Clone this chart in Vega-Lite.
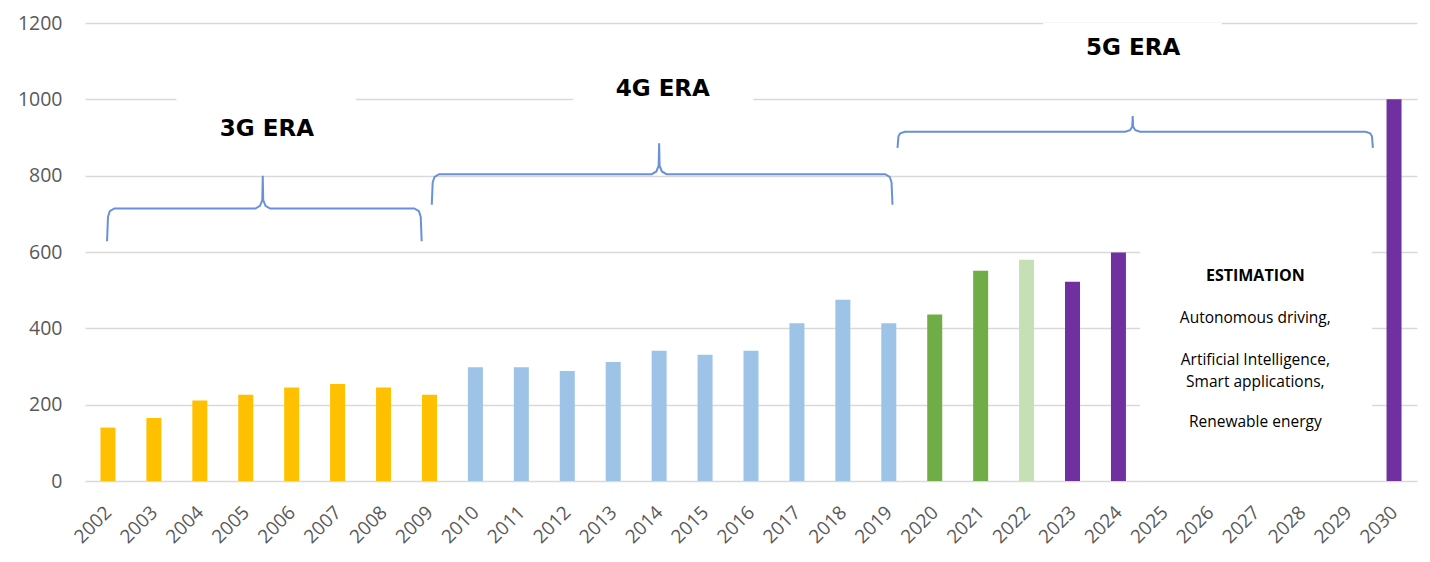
{
  "$schema": "https://vega.github.io/schema/vega-lite/v6.json",
  "width": 1332,
  "height": 458,
  "autosize": "none",
  "padding": {"left": 85, "top": 23, "right": 13, "bottom": 81},
  "background": "white",
  "config": {"view": {"stroke": null}, "font": "Open Sans"},
  "datasets": {
    "bars": [
      {"year": 2002, "value": 140, "group": "3G"},
      {"year": 2003, "value": 165, "group": "3G"},
      {"year": 2004, "value": 211, "group": "3G"},
      {"year": 2005, "value": 226, "group": "3G"},
      {"year": 2006, "value": 245, "group": "3G"},
      {"year": 2007, "value": 254, "group": "3G"},
      {"year": 2008, "value": 245, "group": "3G"},
      {"year": 2009, "value": 226, "group": "3G"},
      {"year": 2010, "value": 298, "group": "4G"},
      {"year": 2011, "value": 298, "group": "4G"},
      {"year": 2012, "value": 288, "group": "4G"},
      {"year": 2013, "value": 312, "group": "4G"},
      {"year": 2014, "value": 341, "group": "4G"},
      {"year": 2015, "value": 331, "group": "4G"},
      {"year": 2016, "value": 341, "group": "4G"},
      {"year": 2017, "value": 413, "group": "4G"},
      {"year": 2018, "value": 475, "group": "4G"},
      {"year": 2019, "value": 413, "group": "4G"},
      {"year": 2020, "value": 436, "group": "5G"},
      {"year": 2021, "value": 551, "group": "5G"},
      {"year": 2022, "value": 580, "group": "5G light"},
      {"year": 2023, "value": 522, "group": "Estimation"},
      {"year": 2024, "value": 599, "group": "Estimation"},
      {"year": 2030, "value": 1000, "group": "Estimation"}
    ],
    "braces": [
      {"era": "3G", "i": 0, "x": 2001.98, "y": 628},
      {"era": "3G", "i": 1, "x": 2002.00, "y": 692},
      {"era": "3G", "i": 2, "x": 2002.04, "y": 707},
      {"era": "3G", "i": 3, "x": 2002.14, "y": 714},
      {"era": "3G", "i": 4, "x": 2005.21, "y": 714},
      {"era": "3G", "i": 5, "x": 2005.31, "y": 721},
      {"era": "3G", "i": 6, "x": 2005.36, "y": 736},
      {"era": "3G", "i": 7, "x": 2005.37, "y": 800},
      {"era": "3G", "i": 8, "x": 2005.38, "y": 736},
      {"era": "3G", "i": 9, "x": 2005.43, "y": 721},
      {"era": "3G", "i": 10, "x": 2005.53, "y": 714},
      {"era": "3G", "i": 11, "x": 2008.67, "y": 714},
      {"era": "3G", "i": 12, "x": 2008.77, "y": 707},
      {"era": "3G", "i": 13, "x": 2008.81, "y": 692},
      {"era": "3G", "i": 14, "x": 2008.83, "y": 628},
      {"era": "4G", "i": 0, "x": 2009.05, "y": 724},
      {"era": "4G", "i": 1, "x": 2009.07, "y": 782},
      {"era": "4G", "i": 2, "x": 2009.11, "y": 797},
      {"era": "4G", "i": 3, "x": 2009.21, "y": 804},
      {"era": "4G", "i": 4, "x": 2013.84, "y": 804},
      {"era": "4G", "i": 5, "x": 2013.94, "y": 811},
      {"era": "4G", "i": 6, "x": 2013.99, "y": 826},
      {"era": "4G", "i": 7, "x": 2014.00, "y": 885},
      {"era": "4G", "i": 8, "x": 2014.01, "y": 826},
      {"era": "4G", "i": 9, "x": 2014.06, "y": 811},
      {"era": "4G", "i": 10, "x": 2014.16, "y": 804},
      {"era": "4G", "i": 11, "x": 2018.92, "y": 804},
      {"era": "4G", "i": 12, "x": 2019.02, "y": 797},
      {"era": "4G", "i": 13, "x": 2019.06, "y": 782},
      {"era": "4G", "i": 14, "x": 2019.08, "y": 724},
      {"era": "5G", "i": 0, "x": 2019.19, "y": 873},
      {"era": "5G", "i": 1, "x": 2019.21, "y": 903},
      {"era": "5G", "i": 2, "x": 2019.25, "y": 911},
      {"era": "5G", "i": 3, "x": 2019.35, "y": 915},
      {"era": "5G", "i": 4, "x": 2024.15, "y": 915},
      {"era": "5G", "i": 5, "x": 2024.25, "y": 919},
      {"era": "5G", "i": 6, "x": 2024.30, "y": 928},
      {"era": "5G", "i": 7, "x": 2024.31, "y": 956},
      {"era": "5G", "i": 8, "x": 2024.32, "y": 928},
      {"era": "5G", "i": 9, "x": 2024.37, "y": 919},
      {"era": "5G", "i": 10, "x": 2024.47, "y": 915},
      {"era": "5G", "i": 11, "x": 2029.38, "y": 915},
      {"era": "5G", "i": 12, "x": 2029.48, "y": 911},
      {"era": "5G", "i": 13, "x": 2029.52, "y": 903},
      {"era": "5G", "i": 14, "x": 2029.54, "y": 873}
    ],
    "boxes": [
      {"x": 2003.49, "x2": 2007.40, "y": 960, "y2": 1040},
      {"x": 2012.13, "x2": 2016.05, "y": 960, "y2": 1060},
      {"x": 2022.36, "x2": 2026.25, "y": 1100, "y2": 1200},
      {"x": 2024.47, "x2": 2029.52, "y": 20, "y2": 640}
    ],
    "eras": [
      {"x": 2005.46, "y": 921, "label": "3G ERA"},
      {"x": 2014.08, "y": 1027, "label": "4G ERA"},
      {"x": 2024.32, "y": 1135, "label": "5G ERA"}
    ],
    "head": [
      {"x": 2026.98, "y": 537, "label": "ESTIMATION"}
    ],
    "notes": [
      {"x": 2026.98, "y": 428, "label": "Autonomous driving,"},
      {"x": 2026.98, "y": 317, "label": "Artificial Intelligence,"},
      {"x": 2026.98, "y": 260, "label": "Smart applications,"},
      {"x": 2026.98, "y": 155, "label": "Renewable energy"}
    ]
  },
  "layer": [
    {
      "data": {"name": "bars"},
      "mark": {"type": "bar", "size": 15},
      "encoding": {
        "x": {
          "field": "year", "type": "quantitative",
          "scale": {"domain": [2001.5, 2030.5], "nice": false, "zero": false, "padding": 0},
          "axis": {
            "title": null,
            "values": [2002,2003,2004,2005,2006,2007,2008,2009,2010,2011,2012,2013,2014,2015,2016,2017,2018,2019,2020,2021,2022,2023,2024,2025,2026,2027,2028,2029,2030],
            "format": "d",
            "labelAngle": -45,
            "labelAlign": "right",
            "labelBaseline": "middle",
            "labelFontSize": 19,
            "labelColor": "#595959",
            "labelPadding": 28,
            "labelOverlap": false,
            "labelFlush": false,
            "grid": false, "ticks": false, "domain": false
          }
        },
        "y": {
          "field": "value", "type": "quantitative",
          "scale": {"domain": [0, 1200], "nice": false},
          "axis": {
            "title": null,
            "values": [0, 200, 400, 600, 800, 1000, 1200],
            "format": "d",
            "labelFontSize": 19.5,
            "labelColor": "#595959",
            "labelPadding": 23,
            "gridColor": "#D9D9D9",
            "gridWidth": 1.3,
            "ticks": false, "domain": false
          }
        },
        "color": {
          "field": "group", "type": "nominal", "legend": null,
          "scale": {
            "domain": ["3G", "4G", "5G", "5G light", "Estimation"],
            "range": ["#FFC000", "#9DC3E6", "#70AD47", "#C5E0B4", "#7030A0"]
          }
        }
      }
    },
    {
      "data": {"name": "boxes"},
      "mark": {"type": "rect", "color": "white"},
      "encoding": {
        "x": {"field": "x", "type": "quantitative"},
        "x2": {"field": "x2"},
        "y": {"field": "y", "type": "quantitative"},
        "y2": {"field": "y2"}
      }
    },
    {
      "data": {"name": "braces"},
      "mark": {"type": "line", "color": "#6A90D8", "strokeWidth": 2},
      "encoding": {
        "x": {"field": "x", "type": "quantitative"},
        "y": {"field": "y", "type": "quantitative"},
        "detail": {"field": "era"},
        "order": {"field": "i", "type": "quantitative"}
      }
    },
    {
      "data": {"name": "eras"},
      "mark": {"type": "text", "font": "DejaVu Sans", "fontSize": 23, "fontWeight": "bold", "color": "#000000", "align": "center", "baseline": "middle"},
      "encoding": {
        "x": {"field": "x", "type": "quantitative"},
        "y": {"field": "y", "type": "quantitative"},
        "text": {"field": "label"}
      }
    },
    {
      "data": {"name": "head"},
      "mark": {"type": "text", "fontSize": 16, "fontWeight": "bold", "color": "#000000", "align": "center", "baseline": "middle"},
      "encoding": {
        "x": {"field": "x", "type": "quantitative"},
        "y": {"field": "y", "type": "quantitative"},
        "text": {"field": "label"}
      }
    },
    {
      "data": {"name": "notes"},
      "mark": {"type": "text", "fontSize": 15.5, "color": "#000000", "align": "center", "baseline": "middle"},
      "encoding": {
        "x": {"field": "x", "type": "quantitative"},
        "y": {"field": "y", "type": "quantitative"},
        "text": {"field": "label"}
      }
    }
  ]
}
